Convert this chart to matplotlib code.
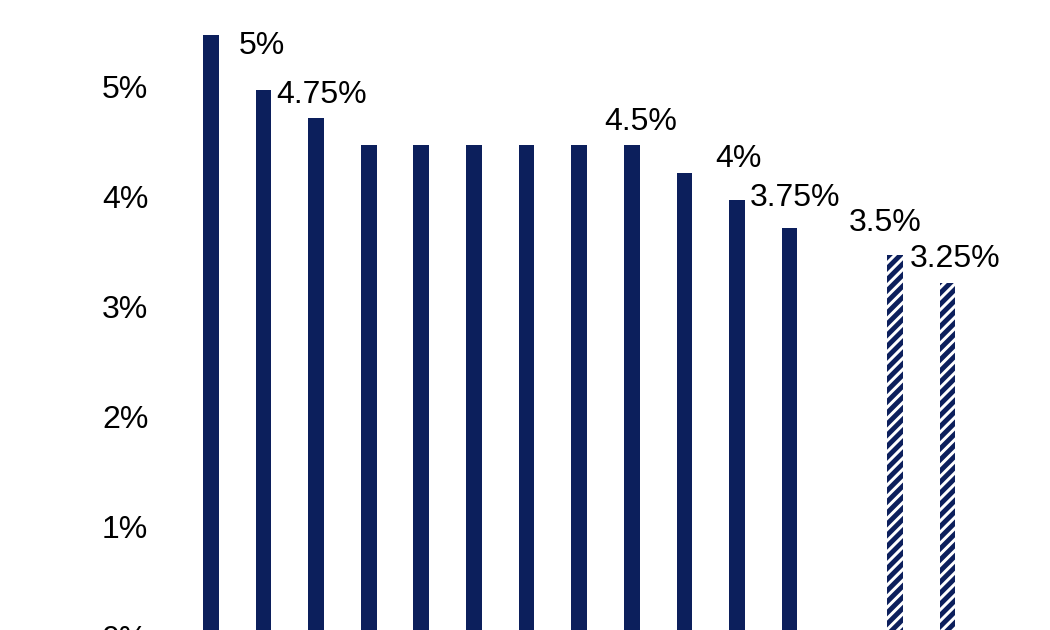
import matplotlib
matplotlib.use("Agg")
import matplotlib.pyplot as plt

values = [5.5, 5.0, 4.75, 4.5, 4.5, 4.5, 4.5, 4.5, 4.5, 4.25, 4.0, 3.75, None, 3.5, 3.25]
hatched = [False]*12 + [False, True, True]
labels = ["5%", "4.75%", "4.5%", "4%", "3.75%", "3.5%", "3.25%"]
label_x = [0.97, 2.11, 8.17, 10.02, 11.1, 12.81, 14.14]
label_y = [5.40, 4.96, 4.71, 4.37, 4.02, 3.79, 3.46]
yticks = [0, 1, 2, 3, 4, 5]
navy = "#0c1f5c"

plt.rcParams['font.family'] = ['Liberation Sans', 'DejaVu Sans']
plt.rcParams['hatch.linewidth'] = 3.5
fig = plt.figure(figsize=(10.5, 6.3), dpi=100)
ax = fig.add_axes([0, 0, 1, 1])
for i, (v, h) in enumerate(zip(values, hatched)):
    if v is None:
        continue
    if h:
        ax.bar(i, v, width=0.3, color="white", edgecolor=navy, hatch="///", linewidth=0)
    else:
        ax.bar(i, v, width=0.3, color=navy, linewidth=0)
for t, x, y in zip(labels, label_x, label_y):
    ax.text(x, y, t, ha="center", va="center", fontsize=23, color="black")
for t in yticks:
    ax.text(-1.63, t, f"{t}%", ha="center", va="center", fontsize=23, color="black", clip_on=False)
ax.set_xlim(-4.01, 15.95)
ax.set_ylim(0.09, 5.82)
ax.axis("off")
fig.savefig("out.png", dpi=100)
